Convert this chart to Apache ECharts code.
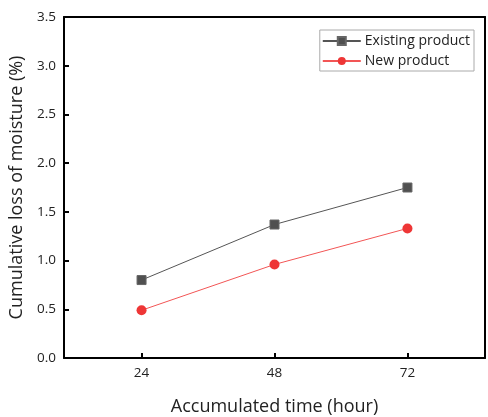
<!DOCTYPE html>
<html><head><meta charset="utf-8">
<script src="https://cdn.jsdelivr.net/npm/echarts@6/dist/echarts.min.js"></script>
<style>html,body{margin:0;padding:0;background:#fff}#c{width:488px;height:417px}</style>
</head><body><div id="c"></div>
<script>
const hours = [24, 48, 72];
const existingProduct = [0.80, 1.37, 1.75];
const newProduct = [0.49, 0.96, 1.33];
const yTicks = [0, 0.5, 1.0, 1.5, 2.0, 2.5, 3.0, 3.5];

const font = '"Open Sans", "Noto Sans", sans-serif';
const frameAxis = {
  axisLine: {show: true, onZero: false, lineStyle: {color: '#000', width: 2}},
  axisTick: {show: false}, axisLabel: {show: false}, splitLine: {show: false}
};
const chart = echarts.init(document.getElementById('c'));
chart.setOption({
  animation: false,
  textStyle: {fontFamily: font},
  grid: {left: 64, right: 3, top: 17, bottom: 59, outerBoundsMode: 'none', containLabel: false},
  legend: {
    right: 14, top: 30, orient: 'vertical',
    itemWidth: 38, itemHeight: 10, itemGap: 6,
    borderColor: '#aaa', borderWidth: 1, padding: [4, 4, 3, 2],
    textStyle: {fontSize: 14, color: '#222', fontFamily: font, padding: [0, 0, 0, -1]},
    data: ['Existing product', 'New product']
  },
  xAxis: [{
    type: 'value', min: 10, max: 86,
    name: 'Accumulated time (hour)', nameLocation: 'middle', nameGap: 40,
    nameTextStyle: {fontSize: 18, color: '#222', fontFamily: font},
    axisLine: {show: true, onZero: false, lineStyle: {color: '#000', width: 2}},
    axisTick: {show: true, inside: true, length: 5, lineStyle: {color: '#000', width: 2}, customValues: hours},
    axisLabel: {fontSize: 13.5, color: '#222', margin: 8, customValues: hours, fontFamily: font},
    splitLine: {show: false}
  }, Object.assign({type: 'value', min: 10, max: 86, position: 'top'}, frameAxis)],
  yAxis: [{
    type: 'value', min: 0, max: 3.5, interval: 0.5,
    name: 'Cumulative loss of moisture (%)', nameLocation: 'middle', nameGap: 35,
    nameTextStyle: {fontSize: 18, color: '#222', fontFamily: font},
    axisLine: {show: true, onZero: false, lineStyle: {color: '#000', width: 2}},
    axisTick: {show: true, inside: true, length: 5, lineStyle: {color: '#000', width: 2}},
    axisLabel: {fontSize: 13.5, color: '#222', margin: 8, fontFamily: font,
      formatter: v => yTicks.includes(v) ? v.toFixed(1) : ''},
    splitLine: {show: false}
  }, Object.assign({type: 'value', min: 0, max: 3.5, interval: 0.5, position: 'right'}, frameAxis)],
  series: [
    {
      name: 'Existing product', type: 'line',
      data: hours.map((h, i) => [h, existingProduct[i]]),
      symbol: 'rect', symbolSize: 9,
      itemStyle: {color: '#505050', borderColor: '#666', borderWidth: 1},
      lineStyle: {color: '#555', width: 1}
    },
    {
      name: 'New product', type: 'line',
      data: hours.map((h, i) => [h, newProduct[i]]),
      symbol: 'circle', symbolSize: 10,
      itemStyle: {color: '#ee3636'},
      lineStyle: {color: '#f25555', width: 1}
    }
  ]
});
</script></body></html>
